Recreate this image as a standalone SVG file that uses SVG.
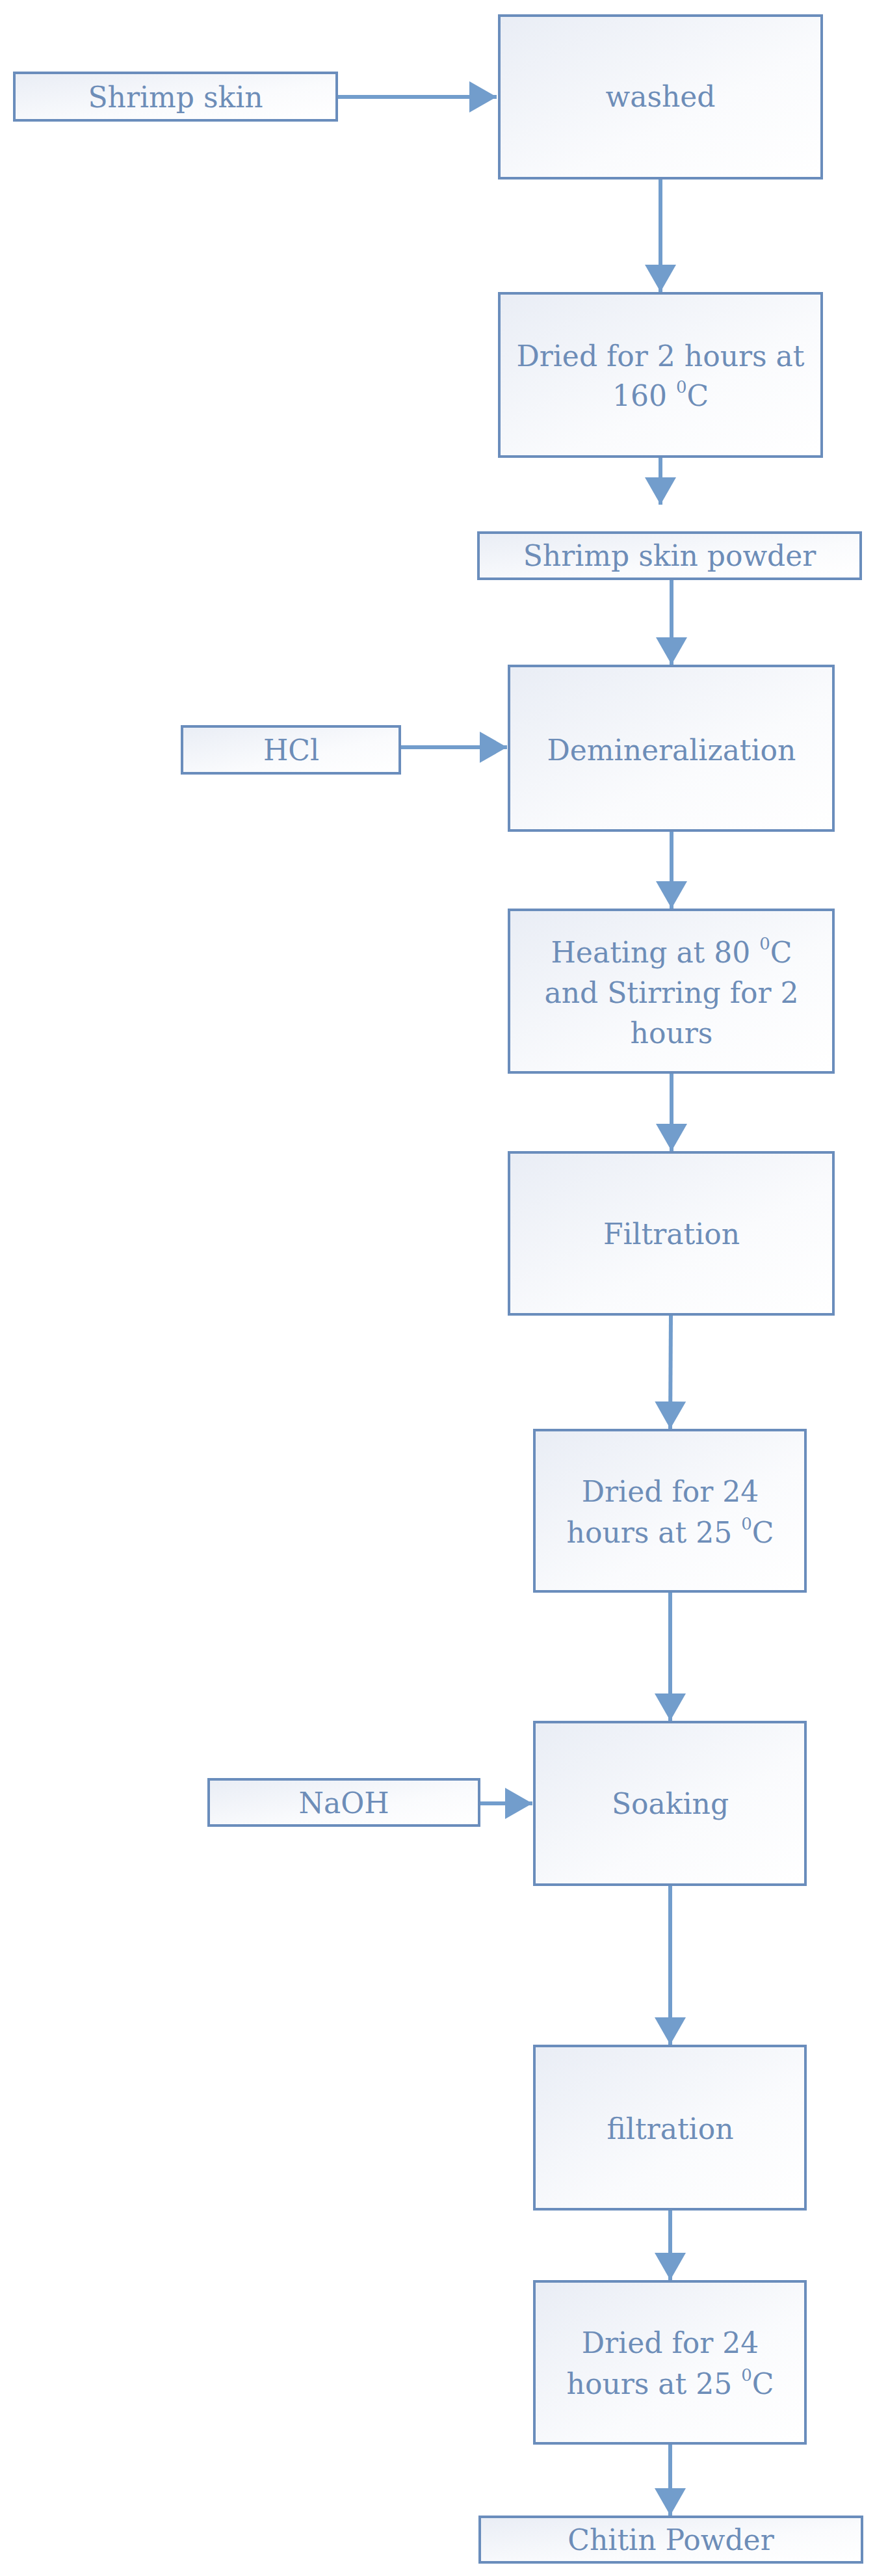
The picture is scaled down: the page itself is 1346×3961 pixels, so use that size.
<svg xmlns="http://www.w3.org/2000/svg" width="1346" height="3961" viewBox="0 0 1346 3961">
<style>
.box{stroke:#6a8dbc;stroke-width:4;fill:url(#g)}
.t{font-family:"DejaVu Serif","Liberation Serif",serif;font-size:44px;fill:#6d8db8;text-anchor:middle}
.c{stroke:#729dcc;stroke-width:6;fill:none}
.s{font-size:26px}
</style>
<defs>
<linearGradient id="g" x1="0" y1="0" x2="1" y2="1"><stop offset="0" stop-color="#e9edf5"/><stop offset="0.6" stop-color="#fafbfd"/><stop offset="1" stop-color="#ffffff"/></linearGradient>
<marker id="a" markerWidth="8" markerHeight="8" refX="7" refY="4" orient="auto" markerUnits="strokeWidth"><path d="M0,0 L7,4 L0,8 Z" fill="#729dcc"/></marker>
</defs>
<g id="connectors">
<line class="c" x1="518" y1="149" x2="764" y2="149" marker-end="url(#a)"/>
<line class="c" x1="1016" y1="274" x2="1016" y2="449" marker-end="url(#a)"/>
<line class="c" x1="1016" y1="702" x2="1016" y2="776" marker-end="url(#a)"/>
<line class="c" x1="1033" y1="890" x2="1033" y2="1022" marker-end="url(#a)"/>
<line class="c" x1="615" y1="1149" x2="780" y2="1149" marker-end="url(#a)"/>
<line class="c" x1="1033" y1="1277" x2="1033" y2="1397" marker-end="url(#a)"/>
<line class="c" x1="1033" y1="1649" x2="1033" y2="1770" marker-end="url(#a)"/>
<line class="c" x1="1032" y1="2021" x2="1031" y2="2197" marker-end="url(#a)"/>
<line class="c" x1="1031" y1="2447" x2="1031" y2="2646" marker-end="url(#a)"/>
<line class="c" x1="737" y1="2773" x2="819" y2="2773" marker-end="url(#a)"/>
<line class="c" x1="1031" y1="2898" x2="1031" y2="3144" marker-end="url(#a)"/>
<line class="c" x1="1031" y1="3397" x2="1031" y2="3506" marker-end="url(#a)"/>
<line class="c" x1="1031" y1="3757" x2="1031" y2="3868" marker-end="url(#a)"/>
</g>
<g id="shrimp"><rect class="box" x="22" y="112" width="496" height="73"/><text class="t" x="270" y="165">Shrimp skin</text></g>
<g id="washed"><rect class="box" x="768" y="24" width="496" height="250"/><text class="t" x="1016" y="164">washed</text></g>
<g id="dried1"><rect class="box" x="768" y="451" width="496" height="251"/><text class="t" x="1016" y="563">Dried for 2 hours at</text><text class="t" x="1016" y="624">160 <tspan class="s" dy="-20">0</tspan><tspan dy="20">C</tspan></text></g>
<g id="powder"><rect class="box" x="736" y="819" width="588" height="71"/><text class="t" x="1030" y="870">Shrimp skin powder</text></g>
<g id="hcl"><rect class="box" x="280" y="1117" width="335" height="72"/><text class="t" x="448" y="1169">HCl</text></g>
<g id="demin"><rect class="box" x="783" y="1024" width="499" height="253"/><text class="t" x="1033" y="1169">Demineralization</text></g>
<g id="heating"><rect class="box" x="783" y="1399" width="499" height="250"/><text class="t" x="1033" y="1480">Heating at 80 <tspan class="s" dy="-20">0</tspan><tspan dy="20">C</tspan></text><text class="t" x="1033" y="1542">and Stirring for 2</text><text class="t" x="1033" y="1604">hours</text></g>
<g id="filtration1"><rect class="box" x="783" y="1772" width="499" height="249"/><text class="t" x="1033" y="1913">Filtration</text></g>
<g id="dried2"><rect class="box" x="822" y="2199" width="417" height="248"/><text class="t" x="1031" y="2309">Dried for 24</text><text class="t" x="1031" y="2372">hours at 25 <tspan class="s" dy="-20">0</tspan><tspan dy="20">C</tspan></text></g>
<g id="naoh"><rect class="box" x="321" y="2736" width="416" height="71"/><text class="t" x="529" y="2788">NaOH</text></g>
<g id="soaking"><rect class="box" x="822" y="2648" width="417" height="250"/><text class="t" x="1031" y="2789">Soaking</text></g>
<g id="filtration2"><rect class="box" x="822" y="3146" width="417" height="251"/><text class="t" x="1031" y="3289">filtration</text></g>
<g id="dried3"><rect class="box" x="822" y="3508" width="417" height="249"/><text class="t" x="1031" y="3618">Dried for 24</text><text class="t" x="1031" y="3681">hours at 25 <tspan class="s" dy="-20">0</tspan><tspan dy="20">C</tspan></text></g>
<g id="chitin"><rect class="box" x="738" y="3870" width="588" height="70"/><text class="t" x="1032" y="3921">Chitin Powder</text></g>
</svg>
